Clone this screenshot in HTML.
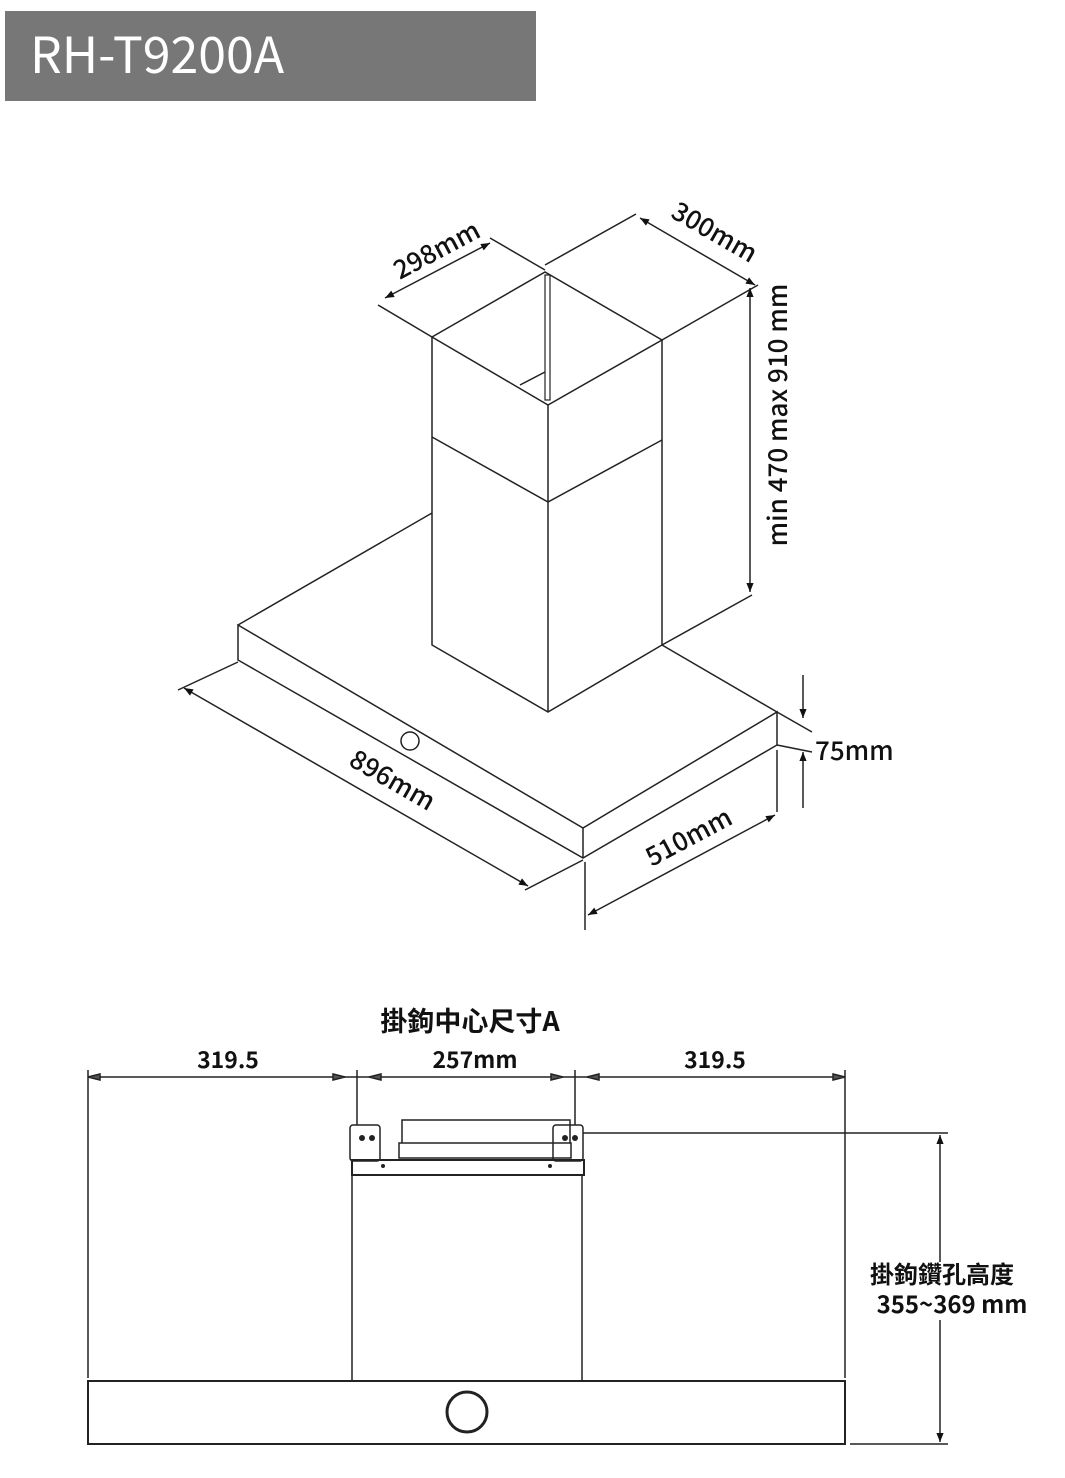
<!DOCTYPE html>
<html><head><meta charset="utf-8"><style>
html,body{margin:0;padding:0;background:#fff;width:1065px;height:1478px;overflow:hidden}
svg{display:block}
text{font-family:"Noto Sans CJK TC","Liberation Sans",sans-serif;fill:#111}
</style></head><body>
<svg width="1065" height="1478" viewBox="0 0 1065 1478" xmlns="http://www.w3.org/2000/svg">
<defs>
<marker id="a" viewBox="0 0 10 10" refX="10" refY="5" markerWidth="16" markerHeight="9" orient="auto-start-reverse" markerUnits="userSpaceOnUse"><path d="M0,1 L10,5 L0,9 Z" fill="#111"/></marker>
</defs>
<rect x="5" y="11" width="531" height="90" fill="#777"/>
<text x="30" y="73" font-size="50" style="fill:#fff">RH-T9200A</text>

<g stroke="#222" stroke-width="1.5" fill="none">
<path d="M238,625 L432,513"/>
<path d="M662,645 L777,712"/>
<path d="M238,625 L583,828 L777,712 L777,745 L583,858 L238,660 Z"/>
<path d="M583,828 L583,858"/>
<circle cx="410" cy="741" r="9"/>
<path d="M432,337 L432,645 L548,712 L662,645 L662,340"/>
<path d="M548,405 L548,712"/>
<path d="M432,337 L545,272 L662,340 L548,405 Z"/>
<path d="M432,437 L548,502 L662,440"/>
<path d="M520,385 L545,372"/>
<rect x="545" y="275" width="5" height="125" stroke-width="1.2"/>
<path d="M238,662 L178,690"/>
<path d="M583,860 L525,890"/>
<path d="M184,688 L528,886" marker-start="url(#a)" marker-end="url(#a)"/>
<path d="M585,862 L585,930"/>
<path d="M777,750 L777,812"/>
<path d="M588,915 L775,815" marker-start="url(#a)" marker-end="url(#a)"/>
<path d="M777,712 L812,732"/>
<path d="M777,745 L812,752"/>
<path d="M803,675 L803,718" marker-end="url(#a)"/>
<path d="M803,808 L803,752" marker-end="url(#a)"/>
<path d="M662,645 L752,595"/>
<path d="M662,340 L758,285"/>
<path d="M750,288 L750,592" marker-start="url(#a)" marker-end="url(#a)"/>
<path d="M545,265 L636,214"/>
<path d="M640,218 L755,285" marker-start="url(#a)" marker-end="url(#a)"/>
<path d="M432,337 L378,305"/>
<path d="M545,270 L490,238"/>
<path d="M385,298 L490,243" marker-start="url(#a)" marker-end="url(#a)"/>
</g>
<g font-size="26" font-weight="500">
<text transform="translate(388,788) rotate(30)" text-anchor="middle">896mm</text>
<text transform="translate(693,845) rotate(-28)" text-anchor="middle">510mm</text>
<text x="815" y="760">75mm</text>
<text transform="translate(787,415) rotate(-90)" text-anchor="middle">min 470 max 910 mm</text>
<text transform="translate(710,240) rotate(30)" text-anchor="middle">300mm</text>
<text transform="translate(441,258) rotate(-28)" text-anchor="middle">298mm</text>
</g>

<text x="470" y="1031" font-size="27" font-weight="bold" text-anchor="middle">掛鉤中心尺寸A</text>
<g font-size="23" font-weight="bold" text-anchor="middle">
<text x="228" y="1068">319.5</text>
<text x="475" y="1068">257mm</text>
<text x="715" y="1068">319.5</text>
</g>
<g stroke="#222" stroke-width="1.5" fill="none">
<path d="M88,1077 L845,1077"/>
<path d="M88,1070 L88,1378 M845,1070 L845,1378"/>
<path d="M357,1070 L357,1125 M575,1070 L575,1125"/>
<rect x="350" y="1125" width="30" height="36" rx="3"/>
<rect x="553" y="1125" width="30" height="36" rx="3"/>
<path d="M402,1143 L402,1120 L570,1120 L570,1143"/>
<rect x="399" y="1143" width="172" height="15"/>
<rect x="352" y="1160" width="232" height="15" stroke-width="2"/>
<path d="M352,1175 L352,1380 M582,1175 L582,1380"/>
<rect x="88" y="1381" width="757" height="63" stroke-width="2"/>
<circle cx="467" cy="1412" r="20" stroke-width="3"/>
<path d="M583,1133 L948,1133"/>
<path d="M850,1444 L948,1444"/>
<path d="M940,1135 L940,1262" marker-start="url(#a)"/>
<path d="M940,1320 L940,1442" marker-end="url(#a)"/>
</g>
<g fill="#222"><circle cx="383" cy="1166" r="2"/><circle cx="550" cy="1166" r="2"/>
<circle cx="362" cy="1138" r="3"/><circle cx="372" cy="1138" r="3"/><circle cx="565" cy="1138" r="3"/><circle cx="575" cy="1138" r="3"/></g>
<g stroke="#222" stroke-width="1.5">
<path d="M88,1077 L100,1074 L100,1080 Z M345,1077 L333,1074 L333,1080 Z M369,1077 L381,1074 L381,1080 Z M563,1077 L551,1074 L551,1080 Z M587,1077 L599,1074 L599,1080 Z M845,1077 L833,1074 L833,1080 Z" fill="#555"/>
</g>
<text x="942" y="1283" font-size="24" font-weight="bold" text-anchor="middle">掛鉤鑽孔高度</text>
<text x="952" y="1313" font-size="24" font-weight="bold" text-anchor="middle">355~369 mm</text>
</svg>
</body></html>
